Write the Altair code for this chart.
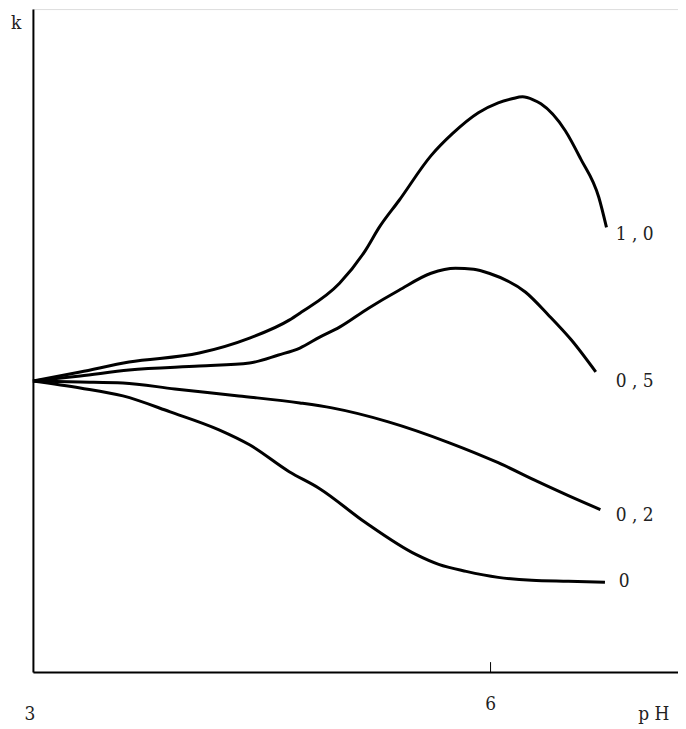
import altair as alt
import pandas as pd

# Curve data (pH, k)
ph_10 = [3.00, 3.31, 3.63, 4.09, 4.42, 4.68, 4.75, 5.01, 5.18, 5.27, 5.40, 5.61, 5.75, 5.92, 6.05, 6.14, 6.21, 6.28, 6.33, 6.49, 6.59, 6.71, 6.76]
k_10 = [2.92, 3.01, 3.11, 3.20, 3.35, 3.53, 3.60, 3.90, 4.23, 4.46, 4.73, 5.18, 5.40, 5.61, 5.71, 5.75, 5.77, 5.74, 5.70, 5.43, 5.15, 4.76, 4.46]

ph_05 = [3.00, 3.31, 3.63, 4.09, 4.42, 4.61, 4.75, 4.88, 5.01, 5.20, 5.40, 5.61, 5.77, 5.89, 5.99, 6.23, 6.38, 6.53, 6.69]
k_05 = [2.92, 2.97, 3.03, 3.07, 3.10, 3.18, 3.25, 3.36, 3.46, 3.65, 3.83, 4.00, 4.05, 4.04, 4.00, 3.81, 3.58, 3.33, 3.01]

ph_02 = [3.00, 3.31, 3.59, 3.93, 4.35, 4.75, 4.96, 5.33, 5.73, 6.05, 6.31, 6.51, 6.72]
k_02 = [2.92, 2.91, 2.90, 2.84, 2.77, 2.70, 2.65, 2.51, 2.30, 2.10, 1.91, 1.77, 1.63]

ph_00 = [3.00, 3.31, 3.59, 3.90, 4.22, 4.42, 4.68, 4.88, 5.18, 5.51, 5.66, 5.84, 6.05, 6.27, 6.51, 6.75]
k_00 = [2.92, 2.85, 2.77, 2.61, 2.43, 2.28, 2.01, 1.84, 1.50, 1.18, 1.08, 1.01, 0.95, 0.92, 0.91, 0.90]

curve_names = ["1 , 0", "0 , 5", "0 , 2", "0"]
label_ph = [6.82, 6.82, 6.82, 6.84]
label_k = [4.39, 2.92, 1.58, 0.91]

tick_values = [6]
axis_texts = ["3", "6", "p H", "k"]
axis_text_ph = [2.98, 6.0, 7.07, 2.89]
axis_text_k = [-0.42, -0.32, -0.42, 6.51]

rows = []
for name, xs_, ys_ in zip(curve_names, [ph_10, ph_05, ph_02, ph_00], [k_10, k_05, k_02, k_00]):
    for i, (x, y) in enumerate(zip(xs_, ys_)):
        rows.append({"curve": name, "ph": x, "k": y, "order": i})
df = pd.DataFrame(rows)

labels = pd.DataFrame({"text": curve_names, "ph": label_ph, "k": label_k})
axis_df = pd.DataFrame({"text": axis_texts, "ph": axis_text_ph, "k": axis_text_k})
ticks_df = pd.DataFrame({"ph": tick_values, "k0": [0.0], "k1": [0.1]})

FONT = "DejaVu Serif Condensed, Liberation Serif, serif"

xs = alt.Scale(domain=[3, 7.2288], nice=False, zero=False)
ys = alt.Scale(domain=[0, 6.65], nice=False, zero=False)

x_axis = alt.Axis(title=None, labels=False, ticks=False, grid=False, domain=True,
                  domainColor="black", domainWidth=2)
y_axis = alt.Axis(title=None, labels=False, ticks=False, grid=False, domain=True,
                  domainColor="black", domainWidth=2)

lines = alt.Chart(df).mark_line(color="black", strokeWidth=3, interpolate="monotone").encode(
    x=alt.X("ph:Q", scale=xs, axis=x_axis),
    y=alt.Y("k:Q", scale=ys, axis=y_axis),
    detail="curve:N",
    order="order:Q",
)

ticks = alt.Chart(ticks_df).mark_rule(color="black", strokeWidth=1).encode(
    x=alt.X("ph:Q", scale=xs),
    y=alt.Y("k0:Q", scale=ys),
    y2="k1:Q",
)

curve_labels = alt.Chart(labels).mark_text(
    align="left", baseline="middle", font=FONT, fontSize=19, color="#222"
).encode(
    x=alt.X("ph:Q", scale=xs),
    y=alt.Y("k:Q", scale=ys),
    text="text:N",
)

axis_labels = alt.Chart(axis_df).mark_text(
    align="center", baseline="middle", font=FONT, fontSize=19, color="#222"
).encode(
    x=alt.X("ph:Q", scale=xs),
    y=alt.Y("k:Q", scale=ys),
    text="text:N",
)

chart = alt.layer(lines, ticks, curve_labels, axis_labels).properties(
    width=647,
    height=665,
    autosize=alt.AutoSizeParams(type="none"),
    padding={"left": 25, "top": 0, "right": 0, "bottom": 56},
).configure_view(stroke=None).configure(background="white")

chart.save("out.html", embed_options={"renderer": "svg", "actions": False})
